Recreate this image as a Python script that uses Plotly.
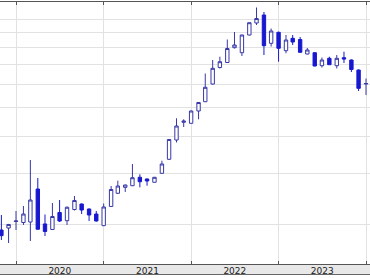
import plotly.graph_objects as go
import pandas as pd

# Monthly candles, Nov 2019 .. Jan 2024
months = pd.date_range("2019-11-01", periods=51, freq="MS").strftime("%Y-%m-%d").tolist()

open_ = [1.923, 1.953, 2.055, 2.039, 2.047, 2.649, 2.016, 1.931, 2.205, 2.068,
         2.257, 2.356, 2.266, 2.179, 1.989, 2.311, 2.562, 2.684, 2.718, 2.903,
         2.865, 2.792, 2.995, 3.342, 3.885, 4.461, 4.427, 4.873, 5.240, 6.017,
         6.846, 7.118, 7.991, 7.685, 8.825, 9.692, 10.318, 8.270, 9.013, 7.806,
         8.600, 8.520, 7.607, 7.685, 6.943, 7.356, 6.943, 7.390, 7.259, 6.713,
         6.017]
high = [2.162, 2.016, 2.231, 2.320, 3.323, 2.887, 2.171, 2.375, 2.431, 2.311,
        2.508, 2.366, 2.275, 2.231, 2.366, 2.712, 2.827, 2.740, 3.221, 2.972,
        2.876, 2.910, 3.305, 3.916, 4.603, 4.567, 4.893, 5.228, 6.532, 7.259,
        7.448, 8.520, 9.034, 8.840, 9.730, 10.940, 10.562, 9.285, 9.056, 8.825,
        8.825, 8.688, 7.972, 7.697, 7.402, 7.448, 7.548, 7.745, 7.288, 6.739,
        6.282]
low = [1.779, 1.737, 1.923, 2.000, 1.765, 1.931, 1.835, 1.923, 2.047, 2.000,
       2.239, 2.179, 2.063, 2.055, 1.984, 2.302, 2.548, 2.588, 2.712, 2.684,
       2.718, 2.788, 2.991, 3.323, 3.811, 4.300, 4.420, 4.567, 5.228, 5.994,
       6.792, 7.090, 7.941, 7.489, 8.804, 9.542, 7.548, 8.066, 7.163, 7.649,
       8.162, 7.697, 7.590, 6.911, 6.846, 6.981, 6.792, 7.090, 6.609, 5.697,
       5.522]
close = [1.840, 2.008, 2.063, 2.179, 2.431, 1.934, 1.901, 2.137, 2.063, 2.297,
         2.422, 2.248, 2.162, 2.063, 2.302, 2.639, 2.712, 2.733, 2.894, 2.805,
         2.820, 2.903, 3.221, 3.901, 4.334, 4.506, 4.873, 5.208, 5.865, 6.803,
         7.163, 7.941, 8.162, 8.825, 9.715, 10.039, 8.117, 9.105, 7.954, 8.486,
         8.355, 7.709, 7.849, 6.927, 7.259, 6.997, 7.356, 7.316, 6.739, 5.818,
         6.041]

grid_vals = [2, 3, 4, 5, 6, 7, 8, 9, 10]
year_ticks_start = "2020-01-01"

fig = go.Figure(go.Candlestick(
    x=months, open=open_, high=high, low=low, close=close,
    increasing=dict(line=dict(color="#3838a8", width=1), fillcolor="white"),
    decreasing=dict(line=dict(color="#1818d0", width=1), fillcolor="#1818d0"),
    whiskerwidth=0,
))

plot_h = 262
fig.update_layout(
    width=370, height=278,
    margin=dict(l=0, r=0, t=2, b=14, pad=0),
    paper_bgcolor="white", plot_bgcolor="white",
    showlegend=False,
    boxgap=0.28,
    xaxis=dict(
        type="date",
        range=["2019-10-26 05:00", "2024-01-17 16:00"],
        rangeslider=dict(visible=False),
        showgrid=True, gridcolor="#e2e2e2", gridwidth=1,
        tick0=year_ticks_start, dtick="M12", tickformat="%Y",
        ticklabelmode="period",
        ticks="inside", ticklen=3, tickcolor="#555",
        ticklabelstandoff=-2,
        showline=True, linecolor="#555", linewidth=1, mirror="ticks",
        tickfont=dict(family="DejaVu Sans", size=9, color="#222"),
        zeroline=False,
    ),
    yaxis=dict(
        type="log",
        range=[0.1686, 1.0577],
        tickvals=grid_vals,
        showticklabels=False,
        showgrid=True, gridcolor="#e2e2e2", gridwidth=1,
        ticks="", showline=False, zeroline=False,
    ),
    shapes=[
        dict(type="rect", xref="paper", yref="paper", x0=0, x1=1,
             y0=-10.5 / plot_h, y1=0, fillcolor="#e8e8e8",
             line=dict(width=0), layer="below"),
        dict(type="line", xref="paper", yref="paper", x0=0, x1=1,
             y0=-10.5 / plot_h, y1=-10.5 / plot_h,
             line=dict(color="#666", width=1)),
    ],
)

fig.write_html("out.html")
